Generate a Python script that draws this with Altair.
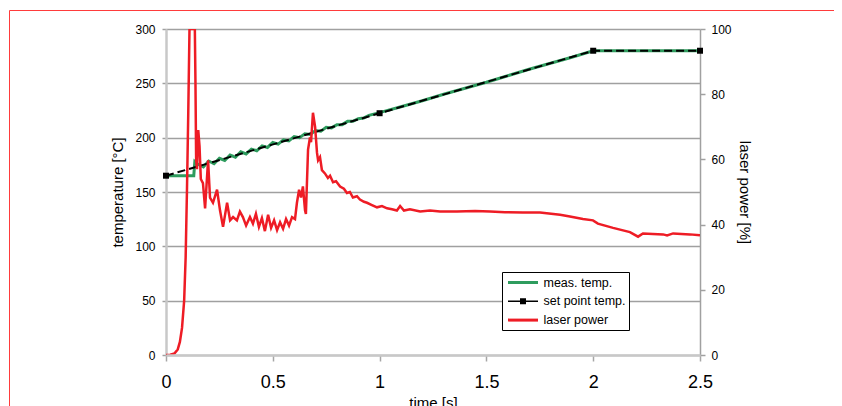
import altair as alt
import pandas as pd

# ---------------- data ----------------
meas_time = [0, 0.13, 0.135,
             0.15, 0.175, 0.2, 0.225, 0.25, 0.275, 0.3, 0.325, 0.35, 0.375, 0.4,
             0.425, 0.45, 0.475, 0.5, 0.525, 0.55, 0.575, 0.6, 0.625, 0.65, 0.675,
             0.7, 0.725, 0.75, 0.775, 0.8, 0.825, 0.85, 0.875, 0.9, 0.925, 0.95,
             1.0, 1.1, 1.2, 1.3, 1.4, 1.5, 1.6, 1.7, 1.8, 1.9, 2.0, 2.5]
meas_temp = [165, 165, 178,
             175.5, 173, 178.5, 176, 181, 179, 184, 182, 187, 185, 189.5,
             188, 192.5, 191, 195.5, 194, 198, 197, 201, 200, 203.5, 203,
             206.5, 206, 209.5, 209, 212, 212, 215, 215, 217.5, 218, 220.5,
             223, 228.5, 234, 240, 245.5, 251, 257, 263, 268.5, 274, 280, 280]

set_time = [0, 1, 2, 2.5]
set_temp = [165, 222.5, 280, 280]

laser_time = [0, 0.02, 0.04, 0.055, 0.065, 0.075, 0.085, 0.092, 0.098, 0.104,
              0.11, 0.135, 0.138, 0.141, 0.145, 0.151, 0.157, 0.163, 0.173, 0.183,
              0.197, 0.206, 0.22, 0.239, 0.253, 0.267, 0.286, 0.30, 0.314, 0.332,
              0.346, 0.36, 0.375, 0.393, 0.407, 0.421, 0.435, 0.449, 0.463, 0.478,
              0.492, 0.506, 0.52, 0.534, 0.548, 0.562, 0.576, 0.59, 0.604, 0.613,
              0.623, 0.632, 0.641, 0.651, 0.655, 0.665, 0.674, 0.679, 0.688, 0.698,
              0.707, 0.712, 0.721, 0.73, 0.744, 0.758, 0.768, 0.782, 0.796, 0.815,
              0.833, 0.847, 0.861, 0.875, 0.894, 0.908, 0.927, 0.941, 0.964, 0.988,
              1.011, 1.035, 1.058, 1.081, 1.096, 1.114, 1.142, 1.19, 1.236, 1.283,
              1.362, 1.447, 1.517, 1.587, 1.671, 1.751, 1.845, 1.891, 1.952, 1.999,
              2.022, 2.093, 2.172, 2.21, 2.233, 2.327, 2.346, 2.374, 2.453, 2.5]
laser_power = [0, 0.1, 0.5, 1.7, 4, 8.3, 16.7, 30, 50, 73.3,
               100, 100, 83, 60, 57, 69, 64, 54, 52.7, 45,
               59.7, 48.3, 46.7, 50.7, 44.3, 39.3, 46.7, 41.3, 42.3, 41.3,
               44, 42.3, 39.7, 42.3, 40.3, 43.3, 39.3, 42, 38, 43,
               39, 41.3, 38.3, 40.7, 38.7, 41.7, 39.7, 42.3, 41.7, 46.7,
               50.7, 48.3, 51.7, 44.3, 43.3, 63, 66.7, 65.3, 74.3, 70,
               62, 59.7, 60.7, 56.7, 55.7, 54.3, 55, 53, 53.3, 51.7,
               51, 49.7, 50, 48.3, 48.7, 47.7, 47, 46.7, 46, 45.3,
               45.7, 45, 44.7, 44.3, 45.7, 44.3, 44.7, 44, 44.3, 44,
               44, 44.2, 44, 43.8, 43.7, 43.7, 43, 42.5, 41.7, 41.3,
               40.3, 39, 37.7, 36.3, 37.3, 37, 36.7, 37.3, 37, 36.7]

series_names = ["meas. temp.", "set point temp.", "laser power"]
series_colors = ["#2e9c5e", "#000000", "#ee1c25"]
legend_shapes = ["M-2,-0.2H2V0.2H-2Z",
                 "M-2,-0.1H2V0.1H-2Z M-0.4,-0.4H0.4V0.4H-0.4Z",
                 "M-2,-0.2H2V0.2H-2Z"]

x_ticks = [0, 0.5, 1, 1.5, 2, 2.5]
temp_ticks = [0, 50, 100, 150, 200, 250, 300]
power_ticks = [0, 20, 40, 60, 80, 100]

FONT = "Liberation Sans"

meas_df = pd.DataFrame({"t": meas_time, "temp": meas_temp})
set_df = pd.DataFrame({"t": set_time, "temp": set_temp})
laser_df = pd.DataFrame({"t": laser_time, "power": laser_power})
legend_df = pd.DataFrame({"series": series_names})
frame_df = pd.DataFrame({"k": [0]})

# ---------------- encodings ----------------
x_axis = alt.Axis(values=x_ticks, format="~g", title="time [s]", grid=False,
                  domainColor="#c8c8c8", domainWidth=2.5,
                  tickColor="#a6a6a6", tickSize=6, tickWidth=1.5,
                  labelFont=FONT, labelFontSize=18, labelPadding=12, labelColor="black",
                  labelFlush=False,
                  titleFont=FONT, titleFontSize=15, titleFontWeight="normal",
                  titleColor="black", titleX=267, titleY=40, titleBaseline="top",
                  zindex=2)
x_enc = alt.X("t:Q", scale=alt.Scale(domain=[0, 2.5], nice=False, zero=False), axis=x_axis)

temp_axis = alt.Axis(values=temp_ticks, title="temperature [°C]", grid=True,
                     gridColor="#a0a0a0", gridWidth=1.5,
                     domainColor="#c8c8c8", domainWidth=2.5,
                     tickColor="#a0a0a0", tickSize=4, tickWidth=1.5,
                     labelFont=FONT, labelFontSize=12, labelPadding=7, labelColor="black",
                     titleFont=FONT, titleFontSize=15, titleFontWeight="normal",
                     titleColor="black", titleX=-49, titleY=163, titleAngle=270,
                     titleBaseline="middle", titleAlign="center")
y_temp = alt.Y("temp:Q", scale=alt.Scale(domain=[0, 300], nice=False), axis=temp_axis)

power_axis = alt.Axis(orient="right", values=power_ticks, title="laser power [%]", grid=False,
                      domainColor="#a0a0a0", domainWidth=1.5,
                      tickColor="#a0a0a0", tickSize=5, tickWidth=1.5,
                      labelFont=FONT, labelFontSize=12, labelPadding=6, labelColor="black",
                      titleFont=FONT, titleFontSize=15, titleFontWeight="normal",
                      titleColor="black", titleX=44, titleY=163, titleAngle=90,
                      titleBaseline="middle", titleAlign="center")
y_power = alt.Y("power:Q", scale=alt.Scale(domain=[0, 100], nice=False), axis=power_axis)

# ---------------- layers ----------------
frame = alt.Chart(frame_df).mark_rect(filled=False, stroke="#ff3b3b", strokeWidth=1, clip=False).encode(
    x=alt.value(-156.5), x2=alt.value(1200), y=alt.value(-18.5), y2=alt.value(1200))

meas_line = alt.Chart(meas_df).mark_line(color=series_colors[0], strokeWidth=3).encode(
    x=x_enc, y=y_temp)
set_line = alt.Chart(set_df).mark_line(color=series_colors[1], strokeWidth=2, strokeDash=[8, 4]).encode(
    x=x_enc, y=y_temp)
set_pts = alt.Chart(set_df).mark_square(color=series_colors[1], size=36, opacity=1, filled=True).encode(
    x=x_enc, y=y_temp)
temp_layer = alt.layer(meas_line, set_line, set_pts)

laser_line = alt.Chart(laser_df).mark_line(color=series_colors[2], strokeWidth=2.5, clip=True).encode(
    x=x_enc, y=y_power)

leg = alt.Legend(title=None, orient="none", legendX=336, legendY=243, padding=3,
                 fillColor="white", strokeColor="black",
                 symbolSize=225, symbolOffset=10.5, labelOffset=13, rowPadding=4.8,
                 symbolStrokeWidth=0, symbolOpacity=1,
                 labelFont=FONT, labelFontSize=12.5, labelColor="black", labelLimit=300)
legend_layer = alt.Chart(legend_df).mark_point(filled=True, opacity=1).encode(
    color=alt.Color("series:N", scale=alt.Scale(domain=series_names, range=series_colors),
                    sort=series_names, legend=leg),
    shape=alt.Shape("series:N", scale=alt.Scale(domain=series_names, range=legend_shapes),
                    sort=series_names, legend=leg),
).transform_filter("datum.series == 'none'")

chart = alt.layer(frame, temp_layer, laser_line, legend_layer).resolve_scale(
    y="independent"
).properties(
    width=534, height=326,
    autosize=alt.AutoSizeParams(type="none"),
    padding={"left": 158, "top": 21, "right": 134, "bottom": 60},
    background="white",
).configure_view(stroke=None)

chart.save("out.html", embed_options={"renderer": "svg", "actions": False})
